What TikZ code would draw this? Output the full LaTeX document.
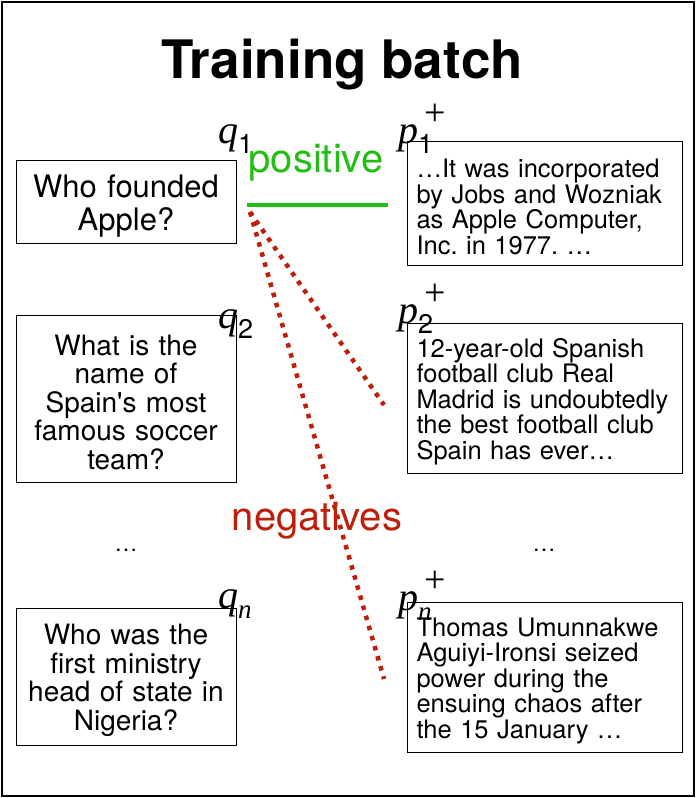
\documentclass[tikz,border=0pt]{standalone}
\usepackage{fontspec}
\setmainfont{TeX Gyre Heros}[Ligatures=TeXOff]
\newfontfamily\symfont{Liberation Serif}
\frenchspacing

\definecolor{posgreen}{RGB}{34,190,20}
\definecolor{negred}{RGB}{190,30,10}

% letter with a subscript and an optional superscript
\newcommand{\vsym}[3]{%
  {\symfont\itshape #1}%
  \makebox[0pt][l]{\hspace{6pt}\raisebox{18pt}{\fontsize{38}{38}\selectfont\symfont #3}}%
  \raisebox{-10pt}{\fontsize{27}{27}\selectfont #2}}

\begin{document}
\begin{tikzpicture}[
    x=1pt, y=-1pt,
    query/.style={draw, line width=1pt, minimum width=220pt, inner sep=0pt,
        text width=220pt, align=center, font=\fontsize{28}{28.5}\selectfont,
        execute at begin node={\rule{0pt}{28pt}}},
    passage/.style={draw, line width=1pt, minimum width=275pt, inner sep=0pt,
        text width=257pt, align=left, font=\fontsize{25.5}{25.5}\selectfont,
        execute at begin node={\rule{0pt}{26pt}}},
    vecname/.style={inner sep=0pt, anchor=base west, font=\fontsize{40}{40}\selectfont},
    dots/.style={inner sep=0pt, font=\fontsize{23}{23}\selectfont}
]
\useasboundingbox (0,0) rectangle (696,798);
\draw[line width=2.5pt] (2,2) rectangle (694,796);

\node[inner sep=0pt, font=\fontsize{53}{53}\selectfont\bfseries] (title) at (342,65) {Training batch};

% questions
\node[query, minimum height=83pt, font=\fontsize{31}{33}\selectfont,
    execute at begin node={\rule{0pt}{32pt}}] (q1) at (126,201.5) {Who founded\\Apple?};
\node[query, minimum height=167pt] (q2) at (126,398.5) {What is the\\name of\\Spain's most\\famous soccer\\team?};
\node[dots] (qdots) at (126,550) {\dots};
\node[query, minimum height=137pt] (qn) at (126,676.5) {Who was the\\first ministry\\head of state in\\Nigeria?};

% passages
\node[passage, minimum height=124pt] (p1) at (545,203) {\dots It was incorporated\\by Jobs and Wozniak\\as Apple Computer,\\Inc. in 1977. \dots};
\node[passage, minimum height=150pt] (p2) at (545,398) {12-year-old Spanish\\football club Real\\Madrid is undoubtedly\\the best football club\\Spain has ever\dots};
\node[dots] (pdots) at (544,550) {\dots};
\node[passage, minimum height=150pt] (pn) at (545,677) {Thomas Umunnakwe\\Aguiyi-Ironsi seized\\power during the\\ensuing chaos after\\the 15 January \dots};

% vector names
\node[vecname] (lq1) at (218,143) {\vsym{q}{1}{}};
\node[vecname] (lq2) at (218,328) {\vsym{q}{2}{}};
\node[vecname] (lqn) at (218,608) {\vsym{q}{{\symfont\itshape n}}{}};
\node[vecname] (lp1) at (398,143) {\vsym{p}{1}{+}};
\node[vecname] (lp2) at (398,323) {\vsym{p}{2}{+}};
\node[vecname] (lpn) at (398,610) {\vsym{p}{{\symfont\itshape n}}{+}};

% positive pair
\coordinate (posa) at (247,205);
\coordinate (posb) at (388,205);
\node[inner sep=0pt, text=posgreen, font=\fontsize{40}{40}\selectfont] (pos) at (316,163) {positive};
\draw[posgreen, line width=4.5pt] (posa) -- (posb);

% negatives
\coordinate (nega) at (250,212);
\coordinate (negb) at (384,405);
\coordinate (negc) at (384,679);
\node[inner sep=0pt, text=negred, font=\fontsize{40}{40}\selectfont] (neg) at (317,521) {negatives};
\draw[negred, line width=4.5pt, dash pattern=on 4.5pt off 6pt] (nega) -- (negb);
\draw[negred, line width=4.5pt, dash pattern=on 4.5pt off 6pt] (nega) -- (negc);
\end{tikzpicture}
\end{document}
